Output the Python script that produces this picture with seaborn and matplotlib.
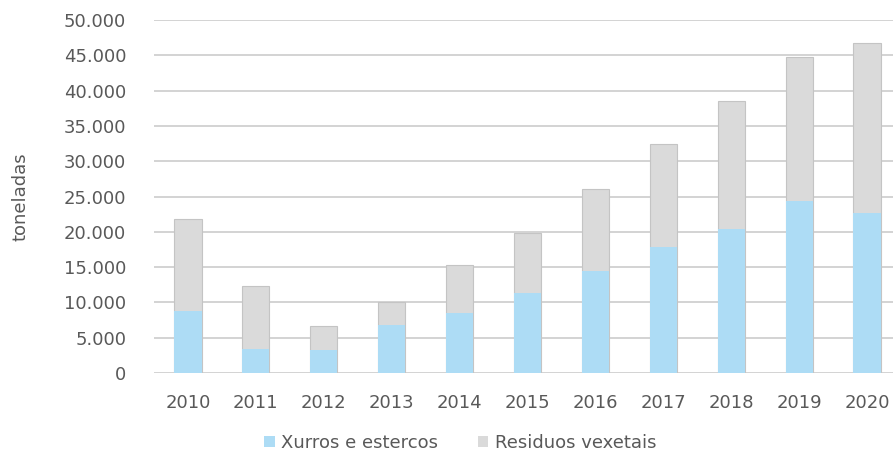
import numpy as np
import pandas as pd
import matplotlib
matplotlib.use("Agg")
import matplotlib.pyplot as plt
import seaborn as sns
from matplotlib.patches import Patch
from matplotlib.ticker import FuncFormatter

# ---- Data ----
years = ["2010", "2011", "2012", "2013", "2014", "2015", "2016", "2017", "2018", "2019", "2020"]
xurros = [8800, 3400, 3300, 6800, 8450, 11400, 14450, 17850, 20400, 24300, 22600]
residuos = [13000, 8900, 3400, 3200, 6800, 8500, 11550, 14550, 18100, 20400, 24200]

df = pd.DataFrame({"ano": years, "xurros": xurros, "residuos": residuos})
df["total"] = df["xurros"] + df["residuos"]

# ---- Style ----
sns.set_theme(style="white")
plt.rcParams['font.family'] = ['DejaVu Sans']

blue = "#ADDCF5"
grey = "#DADADA"
txt = "#595959"
fs = 13

fig = plt.figure(figsize=(8.93, 4.53), dpi=100)
ax = fig.add_axes([154 / 893, 80 / 453, 747 / 893, 353 / 453])

# grey = total stack, blue drawn over it from zero
sns.barplot(data=df, x="ano", y="total", color=grey, width=0.4, saturation=1,
            edgecolor="#C4C4C4", linewidth=0.8, ax=ax, zorder=3)
sns.barplot(data=df, x="ano", y="xurros", color=blue, width=0.4, saturation=1,
            linewidth=0, ax=ax, zorder=4)

ax.set_ylim(0, 50000)
ax.set_xlim(-0.5, 10.5)
ax.set_yticks(np.arange(0, 50001, 5000))
ax.yaxis.set_major_formatter(FuncFormatter(lambda v, p: f"{int(v):,}".replace(",", ".")))
ax.grid(axis="y", color="#D0D0D0", linewidth=1.3, zorder=0)
ax.set_axisbelow(True)
for s in ax.spines.values():
    s.set_visible(False)

ax.tick_params(axis="both", length=0, labelsize=fs, labelcolor=txt)
ax.tick_params(axis="y", pad=20)
ax.tick_params(axis="x", pad=15)
ax.set_xlabel("")
ax.set_ylabel("toneladas", fontsize=fs, color=txt)
ax.yaxis.set_label_coords(-124 / 747, 0.5)

handles = [Patch(facecolor=blue, edgecolor="none", label="Xurros e estercos"),
           Patch(facecolor=grey, edgecolor="none", label="Residuos vexetais")]
fig.legend(handles=handles, loc="center", bbox_to_anchor=(460 / 893, 1 - 443 / 453),
           ncol=2, frameon=False, fontsize=fs, labelcolor=txt,
           handlelength=0.6, handleheight=0.6, handletextpad=0.35, columnspacing=2.2)

fig.savefig("out.png", dpi=100)
